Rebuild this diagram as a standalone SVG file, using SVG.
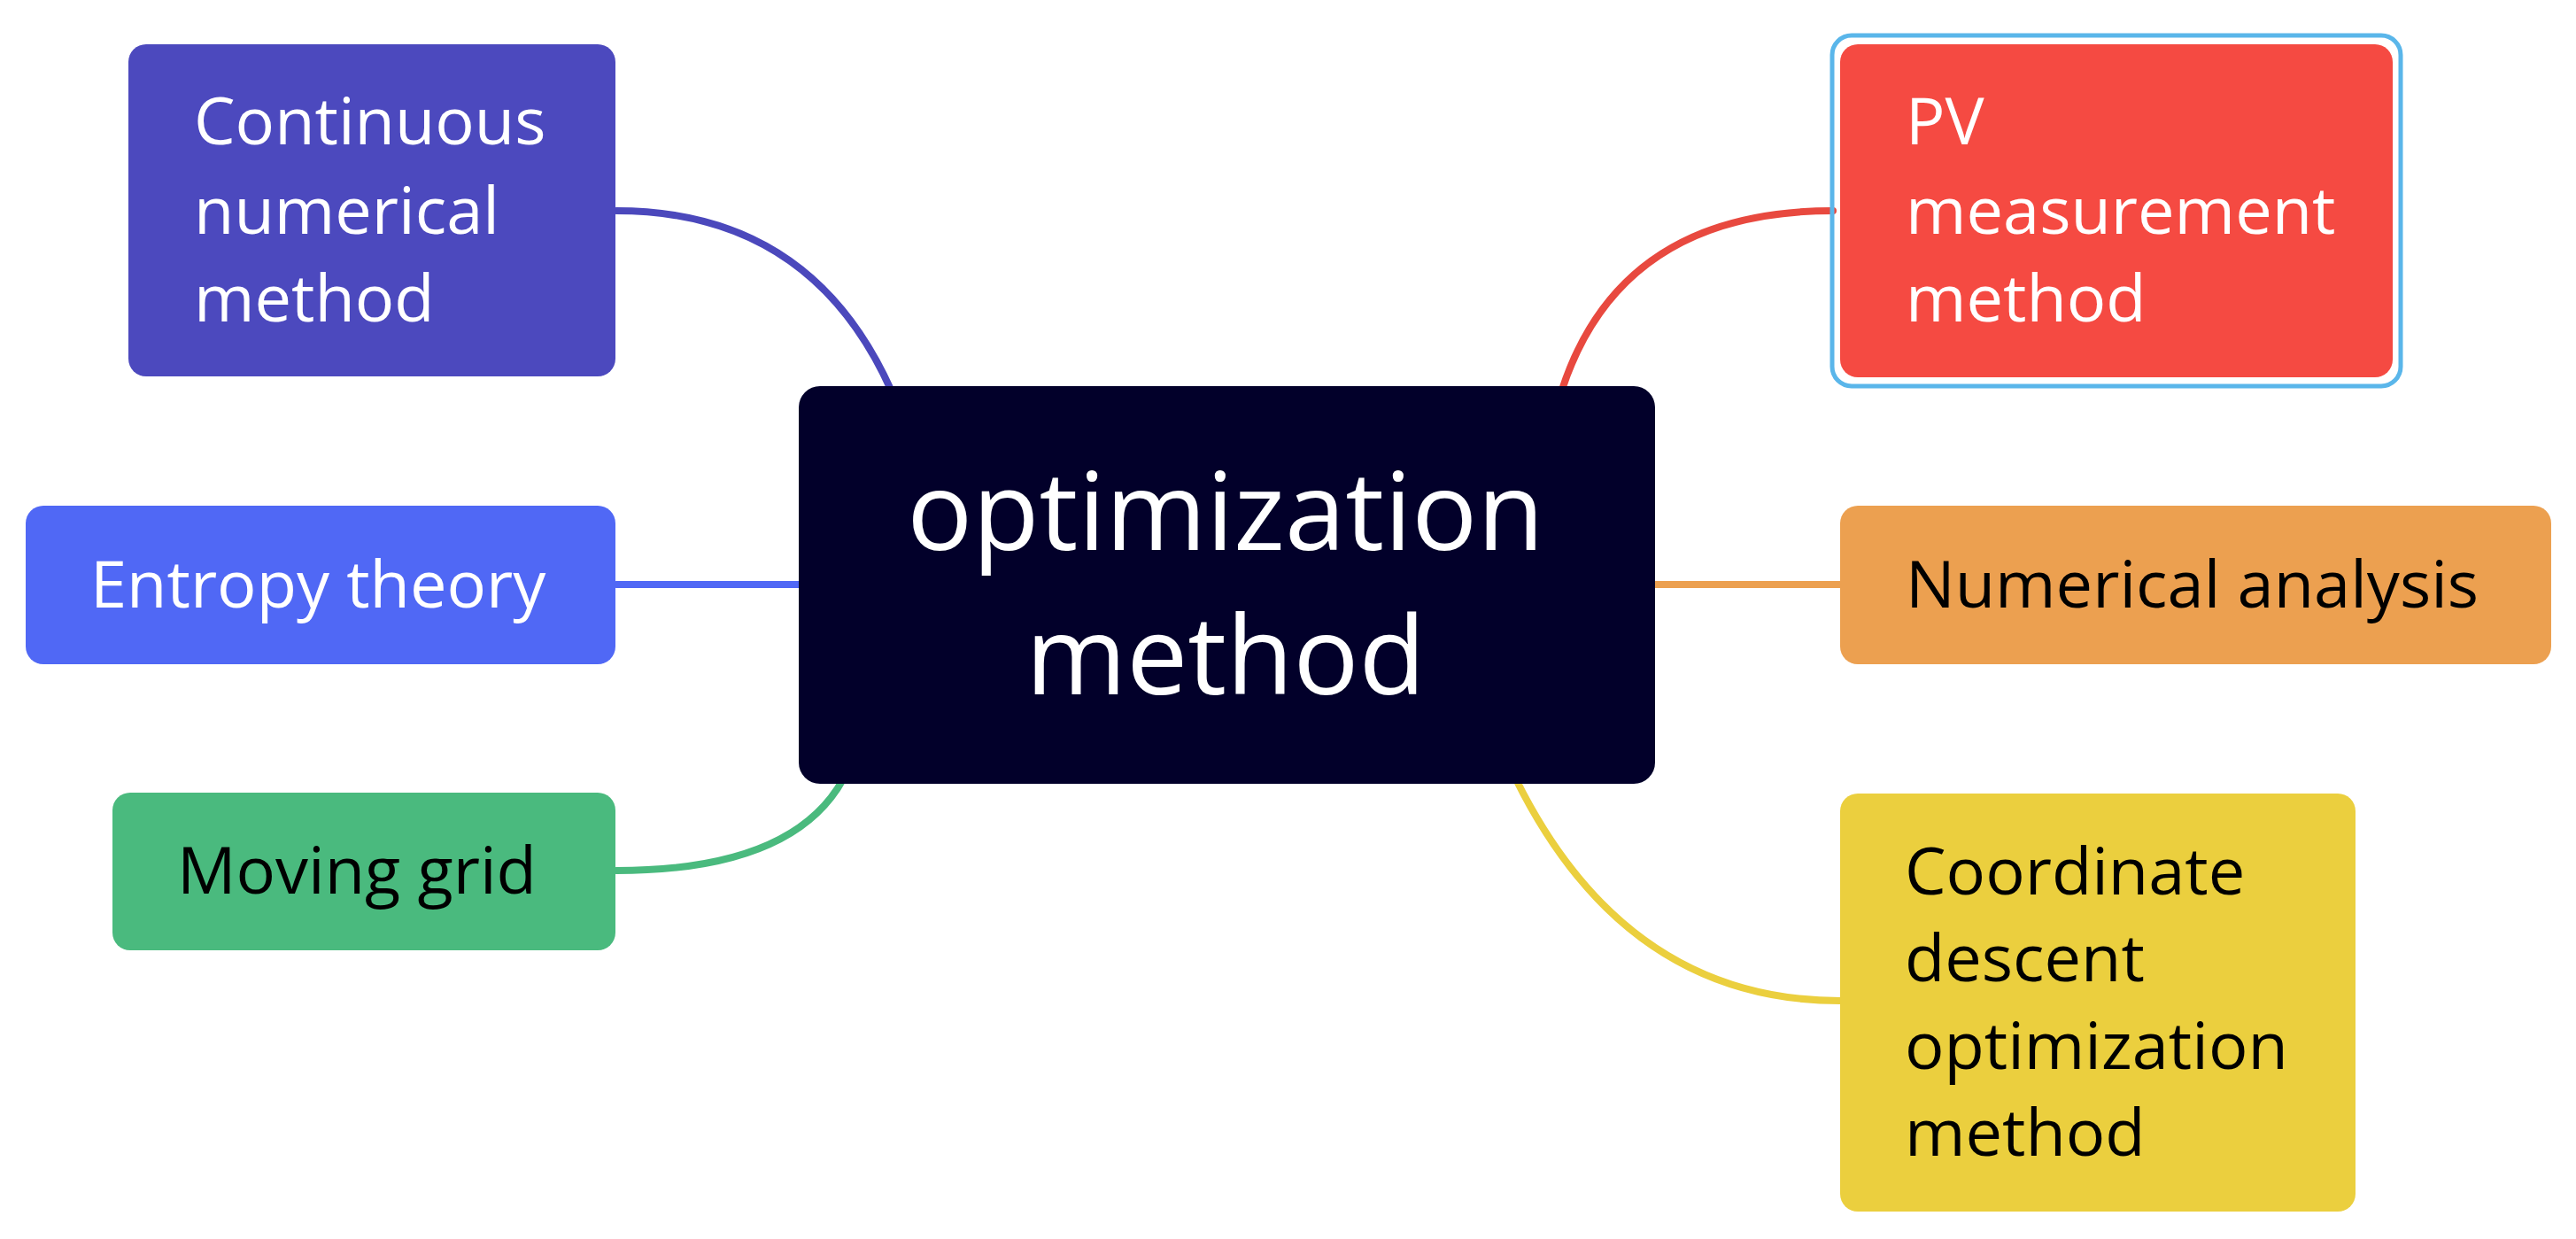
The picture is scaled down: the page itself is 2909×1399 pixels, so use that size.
<svg xmlns="http://www.w3.org/2000/svg" width="2909" height="1399" viewBox="0 0 2909 1399">
<style>
.t{font-family:"Open Sans","Liberation Sans",sans-serif;font-size:74px}
.w{fill:#ffffff}
.k{fill:#000000}
.c{font-family:"Open Sans","Liberation Sans",sans-serif;font-size:123px;fill:#ffffff;text-anchor:middle}
.e{fill:none;stroke-width:8;stroke-linecap:round}
</style>
<rect width="2909" height="1399" fill="#ffffff"/>
<g id="connectors">
<path class="e" stroke="#4B48BC" d="M696 238 Q915 238 1006 440"/>
<path class="e" stroke="#5068F5" d="M696 660 L906 660"/>
<path class="e" stroke="#4ABA7E" d="M696 983 Q895 983 952 880"/>
<path class="e" stroke="#E8493F" d="M1764 440 Q1830 238 2070 238"/>
<path class="e" stroke="#ECA050" d="M1865 660 L2078 660"/>
<path class="e" stroke="#EBCF3E" d="M1712 880 Q1836 1130 2078 1130"/>
</g>
<g id="center">
<rect x="902" y="436" width="967" height="449" rx="24" fill="#02002A"/>
<text class="c" x="1384" y="621">optimization</text>
<text class="c" x="1384" y="784">method</text>
</g>
<g id="continuous">
<rect x="145" y="50" width="550" height="375" rx="20" fill="#4C49BE"/>
<text class="t w" x="219" y="163">Continuous</text>
<text class="t w" x="219" y="264">numerical</text>
<text class="t w" x="219" y="363">method</text>
</g>
<g id="entropy">
<rect x="29" y="571" width="666" height="179" rx="20" fill="#5068F5"/>
<text class="t w" x="102" y="686">Entropy theory</text>
</g>
<g id="moving">
<rect x="127" y="895" width="568" height="178" rx="20" fill="#4ABA7E"/>
<text class="t k" x="200" y="1009">Moving grid</text>
</g>
<g id="pv">
<rect x="2069" y="40" width="642" height="396" rx="22" fill="none" stroke="#5AB6EA" stroke-width="5"/>
<rect x="2078" y="50" width="624" height="376" rx="20" fill="#F54A42"/>
<text class="t w" x="2152" y="163">PV</text>
<text class="t w" x="2152" y="264">measurement</text>
<text class="t w" x="2152" y="363">method</text>
</g>
<g id="numerical">
<rect x="2078" y="571" width="803" height="179" rx="20" fill="#ECA050"/>
<text class="t k" x="2152" y="686">Numerical analysis</text>
</g>
<g id="coordinate">
<rect x="2078" y="896" width="582" height="472" rx="20" fill="#EBCF3E"/>
<text class="t k" x="2151" y="1010">Coordinate</text>
<text class="t k" x="2151" y="1108">descent</text>
<text class="t k" x="2151" y="1207">optimization</text>
<text class="t k" x="2151" y="1305">method</text>
</g>
</svg>
